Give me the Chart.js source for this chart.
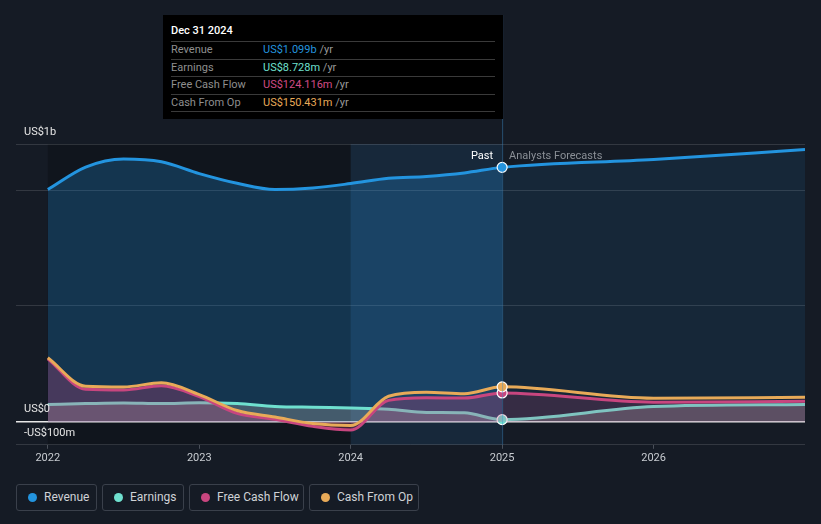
<!DOCTYPE html>
<html>
<head>
<meta charset="utf-8">
<script src="https://cdn.jsdelivr.net/npm/chart.js@4.4.1/dist/chart.umd.min.js"></script>
<style>
  html, body { margin: 0; padding: 0; background: #151b25; }
  body { width: 821px; height: 524px; position: relative; overflow: hidden; font-family: Roboto, "Noto Sans", sans-serif; }
  #wrap { position: absolute; left: 0; top: 0; width: 821px; height: 470px; }
  .tip { position: absolute; left: 163px; top: 15px; width: 340px; height: 104px; background: #000; color: #fff; font-size: 11px; box-sizing: border-box; padding: 8px 8px 0 8px; }
  .tip .head { height: 18px; line-height: 16px; font-weight: 500; }
  .tip .row { height: 16.5px; line-height: 16.5px; border-top: 1px solid #3a3a3a; color: #8f8f8f; position: relative; }
  .tip .row:last-child { border-bottom: 1px solid #3a3a3a; }
  .tip .row span { position: absolute; left: 92px; }
  .tip .row em { font-style: normal; color: #9a9a9a; }
  .legend { position: absolute; top: 484px; left: 16px; display: flex; gap: 5px; }
  .legend div { height: 27px; border: 1px solid #3a404b; border-radius: 3px; box-sizing: border-box; color: #cfd2d6; font-size: 12px; line-height: 25px; padding-left: 27px; position: relative; white-space: nowrap; }
  .legend div i { position: absolute; left: 11px; top: 8px; width: 9px; height: 9px; border-radius: 50%; }
</style>
</head>
<body>
<div id="wrap"><canvas id="chart"></canvas></div>
<div class="tip">
  <div class="head">Dec 31 2024</div>
  <div class="row">Revenue<span style="color:#2394df">US$1.099b <em>/yr</em></span></div>
  <div class="row">Earnings<span style="color:#6fe0cf">US$8.728m <em>/yr</em></span></div>
  <div class="row">Free Cash Flow<span style="color:#d04b86">US$124.116m <em>/yr</em></span></div>
  <div class="row">Cash From Op<span style="color:#e8aa58">US$150.431m <em>/yr</em></span></div>
</div>
<div class="legend">
  <div style="width:81px"><i style="background:#2394df"></i>Revenue</div>
  <div style="width:82px"><i style="background:#6fe0cf"></i>Earnings</div>
  <div style="width:115px"><i style="background:#c8467f"></i>Free Cash Flow</div>
  <div style="width:110px"><i style="background:#e8aa58"></i>Cash From Op</div>
</div>
<script>
// dates as decimal years, values in US$ millions
const dates = [2022, 2022.25, 2022.5, 2022.75, 2023, 2023.25, 2023.5, 2023.75, 2024, 2024.25, 2024.5, 2024.75, 2025, 2026, 2027];
const revenue = [1003, 1100, 1135, 1123, 1072, 1030, 1003, 1010, 1029, 1052, 1060, 1075, 1099, 1133, 1176];
const earnings = [74, 78, 81, 78, 82, 78, 66, 62, 59, 54, 40, 38, 8.7, 65, 74];
const freeCashFlow = [272, 140, 137, 155, 108, 36, 10, -20, -36, 92, 103, 102, 124.1, 84, 88];
const cashFromOp = [276, 153, 150, 168, 117, 48, 20, -8, -17, 110, 127, 121, 150.4, 101, 105];
const xTicks = [2022, 2023, 2024, 2025, 2026];
const yTicks = [-100, 0, 500, 1000, 1200];
const nowDate = 2025;

const pts = arr => arr.map((v, i) => ({ x: dates[i], y: v }));
const dotR = c => (c.raw && c.raw.x === nowDate ? 5 : 0);

function series(label, arr, color, fill, order, futureFill) {
  const ds = {
    label, data: pts(arr), borderColor: color, backgroundColor: fill || 'transparent',
    fill: fill ? 'origin' : false, borderWidth: 3, cubicInterpolationMode: 'monotone',
    pointRadius: dotR, pointHoverRadius: dotR, pointBackgroundColor: color,
    pointBorderColor: '#ffffff', pointBorderWidth: 1.2, order
  };
  if (futureFill) {
    ds.segment = { backgroundColor: c => (c.p0.parsed.x >= nowDate ? futureFill : fill) };
  }
  return ds;
}

const decor = {
  id: 'decor',
  beforeDraw(chart) {
    const { ctx, chartArea: a, scales: { x } } = chart;
    ctx.save();
    ctx.fillStyle = '#151b25';
    ctx.fillRect(0, 0, chart.width, chart.height);
    ctx.fillStyle = 'rgba(0,0,0,0.2)';
    ctx.fillRect(x.getPixelForValue(2022), a.top, x.getPixelForValue(2024) - x.getPixelForValue(2022), a.bottom - a.top);
    ctx.fillStyle = 'rgba(40,140,215,0.12)';
    ctx.fillRect(x.getPixelForValue(2024), a.top, x.getPixelForValue(nowDate) - x.getPixelForValue(2024), a.bottom - a.top);
    ctx.restore();
  },
  afterDatasetsDraw(chart) {
    const { ctx, chartArea: a, scales: { x, y } } = chart;
    const nx = x.getPixelForValue(nowDate);
    ctx.save();
    ctx.strokeStyle = 'rgba(60,140,200,0.45)';
    ctx.lineWidth = 1;
    ctx.beginPath();
    ctx.moveTo(nx + 0.5, 15);
    ctx.lineTo(nx + 0.5, a.bottom);
    ctx.stroke();
    ctx.font = '11px Roboto, "Noto Sans", sans-serif';
    ctx.textBaseline = 'middle';
    ctx.textAlign = 'right';
    ctx.fillStyle = '#ffffff';
    ctx.fillText('Past', nx - 9, a.top + 12);
    ctx.textAlign = 'left';
    ctx.fillStyle = '#8a8f96';
    ctx.fillText('Analysts Forecasts', nx + 7, a.top + 12);
    ctx.fillStyle = '#e6e6e6';
    ctx.fillText('US$1b', 24, a.top - 12);
    ctx.fillText('US$0', 24, y.getPixelForValue(0) - 12);
    ctx.fillText('-US$100m', 24, y.getPixelForValue(-100) - 12);
    ctx.restore();
  }
};

new Chart(document.getElementById('chart'), {
  type: 'line',
  data: {
    datasets: [
      series('Cash From Op', cashFromOp, '#e8aa58', null, 0),
      series('Free Cash Flow', freeCashFlow, '#c8467f', 'rgba(200,70,127,0.28)', 1, 'rgba(200,70,127,0.18)'),
      series('Earnings', earnings, '#6fe0cf', 'rgba(170,170,170,0.32)', 2),
      series('Revenue', revenue, '#2394df', 'rgba(35,148,223,0.26)', 3, 'rgba(35,148,223,0.1)')
    ]
  },
  options: {
    responsive: true, maintainAspectRatio: false, animation: false,
    layout: { padding: { left: 16, right: 16, top: 144, bottom: 2 } },
    plugins: { legend: { display: false }, tooltip: { enabled: false } },
    scales: {
      x: {
        type: 'linear', min: 2021.79, max: 2027,
        afterBuildTicks: ax => { ax.ticks = xTicks.map(v => ({ value: v })); },
        ticks: { color: '#c8ccd1', font: { size: 11, family: 'Roboto' }, padding: 3, callback: v => String(v) },
        grid: { drawOnChartArea: false, tickLength: 4, color: '#4a505a' },
        border: { display: false }
      },
      y: {
        min: -100, max: 1200,
        afterBuildTicks: ax => { ax.ticks = yTicks.map(v => ({ value: v })); },
        ticks: { display: false },
        grid: {
          drawTicks: false,
          color: c => (c.tick.value === 0 ? '#e8e8e8' : 'rgba(255,255,255,0.13)'),
          lineWidth: c => (c.tick.value === 0 ? 1.5 : 1)
        },
        border: { display: false }
      }
    }
  },
  plugins: [decor]
});
</script>
</body>
</html>
